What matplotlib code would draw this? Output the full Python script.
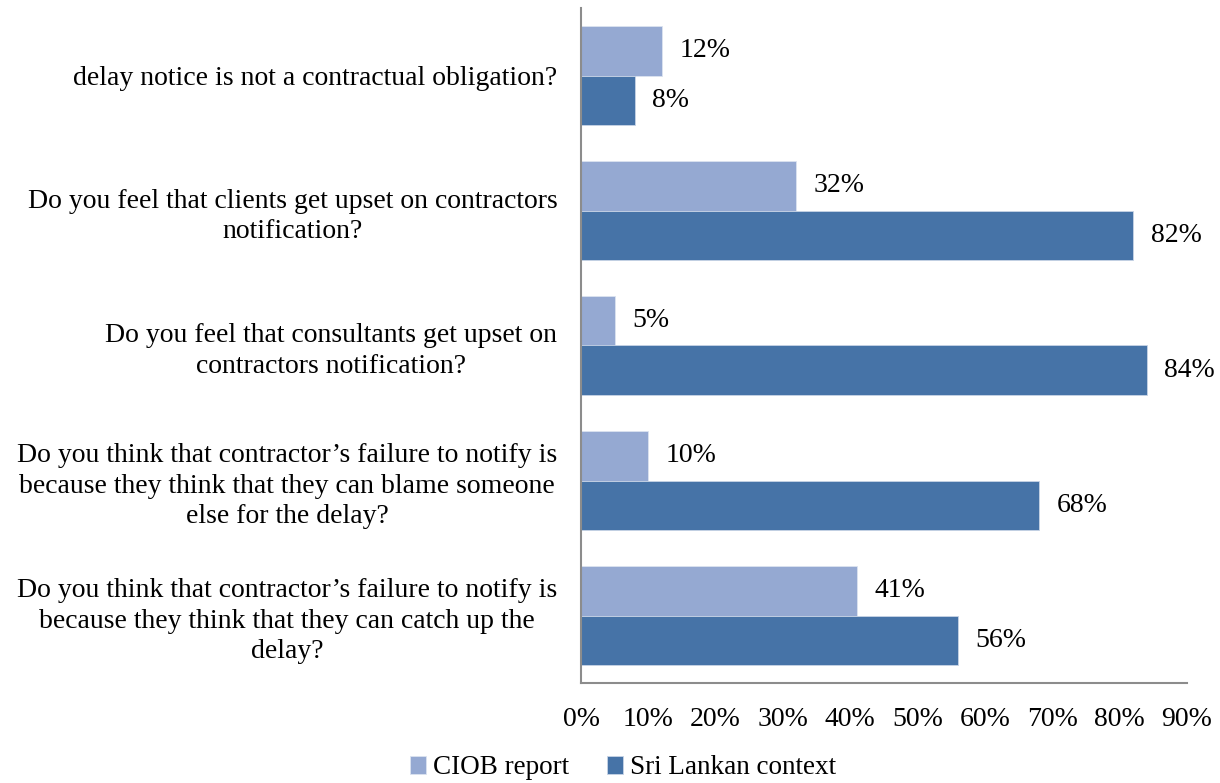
import matplotlib
matplotlib.use("Agg")
import matplotlib.pyplot as plt
import numpy as np

plt.rcParams['font.family'] = ['Liberation Serif', 'DejaVu Serif']

categories = [
    "delay notice is not a contractual obligation?",
    "Do you feel that clients get upset on contractors\nnotification?",
    "Do you feel that consultants get upset on\ncontractors notification?",
    "Do you think that contractor\u2019s failure to notify is\nbecause they think that they can blame someone\nelse for the delay?",
    "Do you think that contractor\u2019s failure to notify is\nbecause they think that they can catch up the\ndelay?",
]
ciob_report = [12, 32, 5, 10, 41]
sri_lankan = [8, 82, 84, 68, 56]
series_names = ["CIOB report", "Sri Lankan context"]
x_ticks = [0, 10, 20, 30, 40, 50, 60, 70, 80, 90]

light = "#95A9D2"
dark = "#4673A7"
FS = 20

fig = plt.figure(figsize=(12.2, 7.83), dpi=100)
ax = fig.add_axes([581/1220, 1-683/783, (1187-581)/1220, (683-8)/783])

y = np.arange(len(categories))
h = 0.363
b1 = ax.barh(y - h/2, ciob_report, height=h, color=light, edgecolor="#DCE3F0", linewidth=0.6, label=series_names[0])
b2 = ax.barh(y + h/2, sri_lankan, height=h, color=dark, edgecolor="#C8D4E6", linewidth=0.6, label=series_names[1])

for bars, vals in ((b1, ciob_report), (b2, sri_lankan)):
    for bar, v in zip(bars, vals):
        ax.text(v + 2.6, bar.get_y() + bar.get_height()/2, f"{v}%",
                va="center", ha="left", fontsize=FS)

ax.set_xlim(0, 90)
ax.set_ylim(len(categories) - 0.5, -0.5)
ax.set_xticks(x_ticks)
ax.set_xticklabels([f"{t}%" for t in x_ticks], fontsize=FS)
ax.set_yticks(y)
ax.set_yticklabels(categories, fontsize=FS, multialignment="center", linespacing=1.27)
ax.tick_params(axis="both", length=0)
ax.tick_params(axis="x", pad=17)
ax.tick_params(axis="y", pad=17)

for s in ("top", "right"):
    ax.spines[s].set_visible(False)
for s in ("left", "bottom"):
    ax.spines[s].set_color("#8C8C8C")
    ax.spines[s].set_linewidth(1.5)

fig.legend(handles=[b1, b2], labels=series_names, loc="center",
           bbox_to_anchor=(623/1220, 1-768/783), ncol=2, frameon=False,
           fontsize=19.5, handlelength=0.6, handleheight=0.6, handletextpad=0.25,
           columnspacing=1.4)

fig.savefig("out.png", dpi=100)
